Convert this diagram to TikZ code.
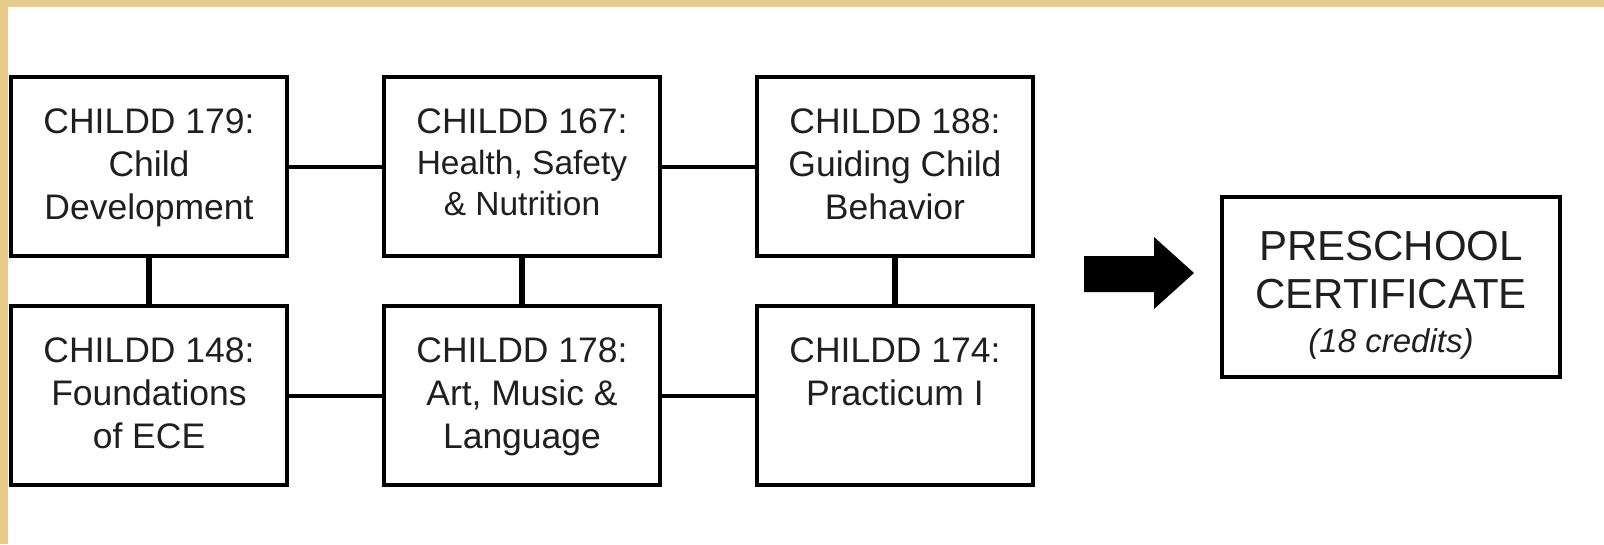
\documentclass[tikz,border=0pt]{standalone}
\usepackage{fontspec}
\setmainfont{Liberation Sans}
\usepackage{tikz}
\usetikzlibrary{positioning}
\definecolor{parchment}{RGB}{232,204,140}
\tikzstyle{course} = [draw=black, line width=3.5pt, rectangle, inner sep=0pt,
    outer sep=0pt, text=black!88]
\tikzstyle{certbox} = [course]
\tikzstyle{hlink} = [line width=4pt]
\tikzstyle{vlink} = [line width=5.5pt]
\newcommand{\coursetext}[1]{\parbox[c][179pt][t]{276pt}{\centering
    \fontsize{35.5}{43}\selectfont\rule{0pt}{56pt}#1}}

\begin{document}
\begin{tikzpicture}[x=1pt, y=-1pt]
                \useasboundingbox (0,0) rectangle (1604,544);
                \fill[white] (0,0) rectangle (1604,544);
                \fill[parchment] (0,0) rectangle (1604,7);
                \fill[parchment] (0,0) rectangle (8,544);
                % top row
                \node [course] (c179) at (149,166.5) {\coursetext{CHILDD 179:\\Child\\Development}};
                \node [course, right=97pt of c179] (c167) {\parbox[c][179pt][t]{276pt}{\centering
                    \fontsize{35.5}{41}\selectfont\rule{0pt}{56pt}CHILDD 167:\\
                    {\fontsize{33.5}{41}\selectfont Health, Safety\\\& Nutrition}}};
                \node [course, right=97pt of c167] (c188) {\coursetext{CHILDD 188:\\Guiding Child\\Behavior}};
                % bottom row
                \node [course, below=50pt of c179] (c148) {\coursetext{CHILDD 148:\\Foundations\\of ECE}};
                \node [course, below=50pt of c167] (c178) {\coursetext{CHILDD 178:\\Art, Music \&\\Language}};
                \node [course, below=50pt of c188] (c174) {\coursetext{CHILDD 174:\\Practicum I}};
                \draw[hlink] (c179) -- (c167);
                \draw[hlink] (c167) -- (c188);
                \draw[hlink] (c148) -- (c178);
                \draw[hlink] (c178) -- (c174);
                \draw[vlink] (c179) -- (c148);
                \draw[vlink] (c167) -- (c178);
                \draw[vlink] (c188) -- (c174);
                % certificate
                \fill (1084,256) -- (1154,256) -- (1154,237) -- (1194,273)
                    -- (1154,309) -- (1154,292) -- (1084,292) -- cycle;
                \node [certbox] (cert) at (1391,287) {\parbox[c][180pt][t]{338pt}{\centering
                    \fontsize{42}{48}\selectfont\rule{0pt}{63pt}PRESCHOOL\\CERTIFICATE\\[-4pt]
                    {\fontsize{33}{44}\selectfont\itshape (18 credits)}}};
\end{tikzpicture}
\end{document}
